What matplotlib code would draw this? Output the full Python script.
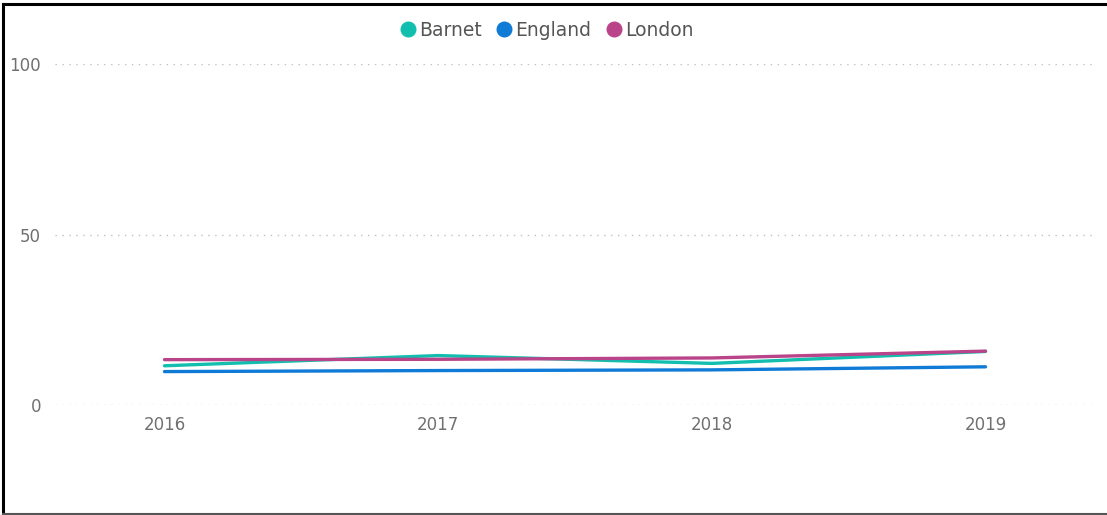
import matplotlib
matplotlib.use("Agg")
import matplotlib.pyplot as plt
from matplotlib.lines import Line2D

plt.rcParams['font.family'] = ['DejaVu Sans']

years = [2016, 2017, 2018, 2019]
barnet = [11.5, 14.5, 12.2, 15.7]
england = [9.8, 10.1, 10.3, 11.2]
london = [13.3, 13.4, 13.8, 15.8]
series_names = ["Barnet", "England", "London"]
colors = ["#12BFAE", "#0F7BD6", "#BA4489"]

W, H = 1107, 515
fig = plt.figure(figsize=(W / 100, H / 100), dpi=100)
fig.patch.set_facecolor("white")

left, right = 55 / W, 1095 / W
bottom, top = (H - 405) / H, (H - 64) / H
ax = fig.add_axes([left, bottom, right - left, top - bottom])

for vals, c in zip([barnet, england, london], colors):
    ax.plot(years, vals, color=c, lw=2.4, solid_capstyle="round", clip_on=False)

ax.set_xlim(2015.6, 2019.4)
ax.set_ylim(0, 100)
ax.set_xticks(years)
ax.set_xticklabels([str(y) for y in years])
ax.set_yticks([0, 50, 100])
ax.tick_params(axis="both", length=0, labelsize=12, labelcolor="#707070")
ax.tick_params(axis="x", pad=8)
ax.tick_params(axis="y", pad=10)
for lbl in ax.get_yticklabels():
    lbl.set_horizontalalignment("right")
ax.grid(axis="y", linestyle=(0, (1, 4)), color="#c0c0c0", lw=1)
for s in ax.spines.values():
    s.set_visible(False)
ax.set_facecolor("none")

handles = [Line2D([], [], marker="o", linestyle="none", markersize=10.5,
                  markerfacecolor=c, markeredgecolor=c) for c in colors]
fig.legend(handles, series_names, loc="center", bbox_to_anchor=(546 / W, 1 - 30 / H),
           ncol=3, frameon=False, fontsize=13.5, labelcolor="#555555",
           handletextpad=0.1, columnspacing=0.7, handlelength=1.0)

# outer frame
fig.add_artist(Line2D([2.5 / W, 2.5 / W], [1 - 3.5 / H, 1 - 514 / H], color="black", lw=2.2,
                      transform=fig.transFigure))
fig.add_artist(Line2D([2.5 / W, 1.0], [1 - 3.5 / H, 1 - 3.5 / H], color="black", lw=2.2,
                      transform=fig.transFigure))
fig.add_artist(Line2D([2.5 / W, 1.0], [1 - 514 / H, 1 - 514 / H], color="#555555", lw=1.5,
                      transform=fig.transFigure))

fig.savefig("out.png", dpi=100)
